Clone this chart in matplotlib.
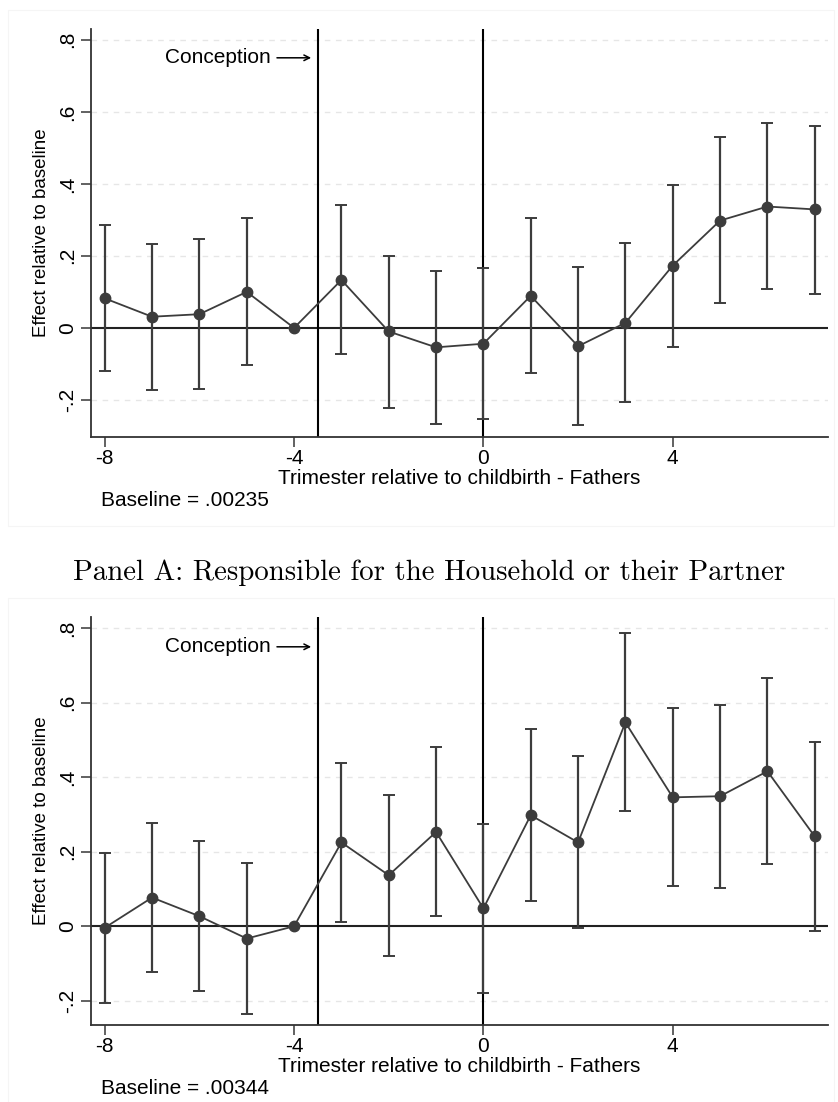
import matplotlib.pyplot as plt
from matplotlib.patches import Rectangle

# event-time coefficients for fathers, trimesters relative to childbirth
trimesters = [-8, -7, -6, -5, -4, -3, -2, -1, 0, 1, 2, 3, 4, 5, 6, 7]

# top graph
coef_top = [0.082, 0.031, 0.038, 0.100, 0.0, 0.133, -0.010, -0.054, -0.044,
            0.089, -0.051, 0.014, 0.173, 0.298, 0.337, 0.329]
upper_top = [0.285, 0.234, 0.246, 0.304, 0.0, 0.340, 0.201, 0.159, 0.166,
             0.304, 0.169, 0.236, 0.398, 0.529, 0.569, 0.562]
lower_top = [-0.119, -0.172, -0.170, -0.104, 0.0, -0.072, -0.222, -0.268, -0.254,
             -0.125, -0.271, -0.207, -0.052, 0.068, 0.108, 0.095]
baseline_top = "Baseline = .00235"

# bottom graph
coef_bot = [-0.004, 0.077, 0.027, -0.033, 0.0, 0.225, 0.137, 0.253, 0.048,
            0.298, 0.225, 0.547, 0.346, 0.349, 0.416, 0.241]
upper_bot = [0.197, 0.278, 0.228, 0.170, 0.0, 0.439, 0.353, 0.481, 0.275,
             0.530, 0.458, 0.786, 0.585, 0.593, 0.666, 0.495]
lower_bot = [-0.207, -0.124, -0.173, -0.236, 0.0, 0.012, -0.080, 0.027, -0.178,
             0.067, -0.006, 0.309, 0.108, 0.103, 0.167, -0.012]
baseline_bot = "Baseline = .00344"

panel_title = "Panel A: Responsible for the Household or their Partner"

plt.rcParams['font.family'] = ['Liberation Sans', 'DejaVu Sans']

W, H = 838, 1102
fig = plt.figure(figsize=(W / 100, H / 100), dpi=100)
ink = '#3c3c3c'
fs = 15


def draw_panel(top_px, coef, upper, lower, baseline, ymin):
    # faint outer graph-region frame
    fig.patches.append(Rectangle((8 / W, 1 - (top_px + 497) / H), 826 / W, 516 / H,
                                 transform=fig.transFigure, fill=False,
                                 edgecolor='#f5f5f5', lw=0.8))
    ax = fig.add_axes([91 / W, 1 - (top_px + 408) / H, 737 / W, 408 / H])
    ax.set_xlim(-8.29, 7.28)
    ax.set_ylim(ymin, 0.83)

    for g in [-0.2, 0.2, 0.4, 0.6, 0.8]:
        ax.axhline(g, color='#e6e6e6', lw=1, ls=(0, (4, 4)), zorder=0)
    ax.axhline(0, color='#222222', lw=1.5, zorder=1)
    ax.axvline(-3.5, color='black', lw=1.5, zorder=1)
    ax.axvline(0, color='black', lw=1.5, zorder=1)

    lo = [c - l for c, l in zip(coef, lower)]
    hi = [u - c for c, u in zip(coef, upper)]
    ax.errorbar(trimesters, coef, yerr=[lo, hi], fmt='none', ecolor=ink,
                elinewidth=1.6, capsize=4, capthick=1.4, zorder=2)
    ax.plot(trimesters, coef, color=ink, lw=1.3, marker='o', markersize=7.5,
            markerfacecolor=ink, markeredgecolor=ink, zorder=3)

    ax.annotate('', xy=(-3.58, 0.75), xytext=(-4.42, 0.75),
                arrowprops=dict(arrowstyle='->', color='black', lw=1.1))
    ax.text(-4.5, 0.75, 'Conception', ha='right', va='center', fontsize=fs)

    for side in ['top', 'right']:
        ax.spines[side].set_visible(False)
    for side in ['left', 'bottom']:
        ax.spines[side].set_color('#333333')
        ax.spines[side].set_linewidth(1.3)

    ax.set_xticks([-8, -4, 0, 4])
    ax.set_xticklabels(['-8', '-4', '0', '4'])
    ax.set_yticks([-0.2, 0, 0.2, 0.4, 0.6, 0.8])
    ax.set_yticklabels(['-.2', '0', '.2', '.4', '.6', '.8'], rotation=90, va='center')
    ax.tick_params(axis='both', length=7, width=1.3, color='#555555',
                   labelsize=fs, pad=3)
    ax.tick_params(axis='x', pad=1.5)
    ax.set_xlabel('Trimester relative to childbirth - Fathers', fontsize=fs,
                  labelpad=0.5)
    ax.set_ylabel('Effect relative to baseline', fontsize=13.5, labelpad=6)
    fig.text(101 / W, 1 - (top_px + 472) / H, baseline, fontsize=fs,
             ha='left', va='center')
    return ax


draw_panel(29, coef_top, upper_top, lower_top, baseline_top, -0.303)
draw_panel(617, coef_bot, upper_bot, lower_bot, baseline_bot, -0.265)

fig.text(429 / W, 1 - 573 / H, panel_title, ha='center', va='center',
         fontsize=20.8, family='cmr10')

fig.savefig('out.png', dpi=100, facecolor='white')
